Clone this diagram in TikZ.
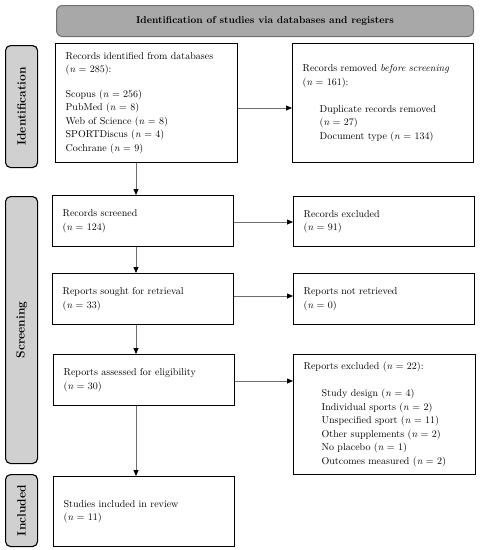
\documentclass[tikz,border=0pt]{standalone}
\usetikzlibrary{arrows.meta,positioning}
\definecolor{bannerfill}{HTML}{A8A8A8}
\definecolor{bannerline}{HTML}{707070}
\definecolor{sidefill}{HTML}{D0D0D0}
\definecolor{arrowline}{HTML}{6E6E6E}
\newcommand{\bodyfont}{\fontsize{10}{13.5}\selectfont}
\tikzset{
  box/.style={draw=black, line width=1.3pt, fill=white, anchor=north west, inner sep=0pt,
    minimum width=#1, align=left, font=\bodyfont},
  sidelabel/.style={draw=black, line width=1.1pt, fill=sidefill, rounded corners=5pt,
    anchor=north west, minimum width=32pt, inner sep=0pt, font=\bfseries\fontsize{12}{12}\selectfont},
  flow/.style={draw=arrowline, line width=0.8pt, -{Triangle[length=6pt,width=5pt,color=black]}},
}
\newcommand{\nn}{\textit{n}}
\begin{document}
\begin{tikzpicture}[x=1pt,y=-1pt]
\useasboundingbox (0,0) rectangle (480,550);
% banner
\node[draw=bannerline, line width=1pt, fill=bannerfill, rounded corners=6pt, anchor=north west,
  minimum width=417pt, minimum height=31pt, inner sep=0pt, font=\bfseries\fontsize{10}{12}\selectfont]
  (banner) at (56,5) {Identification of studies via databases and registers};
% side labels
\node[sidelabel, minimum height=122pt] (sid) at (5,45) {\rotatebox{90}{Identification}};
\node[sidelabel, minimum height=267pt] (sscr) at (5,196) {\rotatebox{90}{Screening}};
\node[sidelabel, minimum height=72pt] (sinc) at (5,474) {\rotatebox{90}{Included}};
% boxes
\node[box=182pt, minimum height=119pt, text width=162pt] (ident) at (55,43) {%
Records identified from databases\\(\nn{} = 285):\\[11pt]
Scopus (\nn{} = 256)\\PubMed (\nn{} = 8)\\Web of Science (\nn{} = 8)\\SPORTDiscus (\nn{} = 4)\\Cochrane (\nn{} = 9)};
\node[box=181pt, minimum height=119pt, text width=161pt] (removed) at (292,43) {%
Records removed \textit{before screening}\\(\nn{} = 161):\\[13.5pt]
\hspace*{17pt}Duplicate records removed\\\hspace*{17pt}(\nn{} = 27)\\\hspace*{17pt}Document type (\nn{} = 134)\\[13.5pt]};
\node[box=181pt, minimum height=51pt, text width=161pt] (screened) at (52,195) {%
Records screened\\(\nn{} = 124)};
\node[box=181pt, minimum height=50pt, text width=161pt] (excl) at (293,196) {%
Records excluded\\(\nn{} = 91)};
\node[box=181pt, minimum height=51pt, text width=161pt] (sought) at (52,273) {%
Reports sought for retrieval\\(\nn{} = 33)};
\node[box=181pt, minimum height=51pt, text width=161pt] (notret) at (293,273) {%
Reports not retrieved\\(\nn{} = 0)};
\node[box=181pt, minimum height=51pt, text width=161pt] (assessed) at (53,354) {%
Reports assessed for eligibility\\(\nn{} = 30)};
\node[box=182pt, minimum height=120pt, text width=162pt] (rexcl) at (293,354) {%
Reports excluded (\nn{} = 22):\\[13.5pt]
\hspace*{18pt}Study design (\nn{} = 4)\\\hspace*{18pt}Individual sports (\nn{} = 2)\\\hspace*{18pt}Unspecified sport (\nn{} = 11)\\\hspace*{18pt}Other supplements (\nn{} = 2)\\\hspace*{18pt}No placebo (\nn{} = 1)\\\hspace*{18pt}Outcomes measured (\nn{} = 2)};
\node[box=181pt, minimum height=70pt, text width=161pt] (incl) at (53,476) {%
Studies included in review\\(\nn{} = 11)\\[13.5pt]};
% connectors
\coordinate (a1) at (136,162);
\draw[flow] (ident.south -| a1) -- (screened.north -| a1);
\draw[flow] (screened.south -| a1) -- (sought.north -| a1);
\draw[flow] (sought.south -| a1) -- (assessed.north -| a1);
\draw[flow] (assessed.south -| a1) -- (incl.north -| a1);
\coordinate (h1) at (240,108);
\coordinate (h2) at (240,222);
\coordinate (h3) at (240,296);
\coordinate (h4) at (240,381);
\draw[flow] (ident.east |- h1) -- (removed.west |- h1);
\draw[flow] (screened.east |- h2) -- (excl.west |- h2);
\draw[flow] (sought.east |- h3) -- (notret.west |- h3);
\draw[flow] (assessed.east |- h4) -- (rexcl.west |- h4);
\end{tikzpicture}
\end{document}
